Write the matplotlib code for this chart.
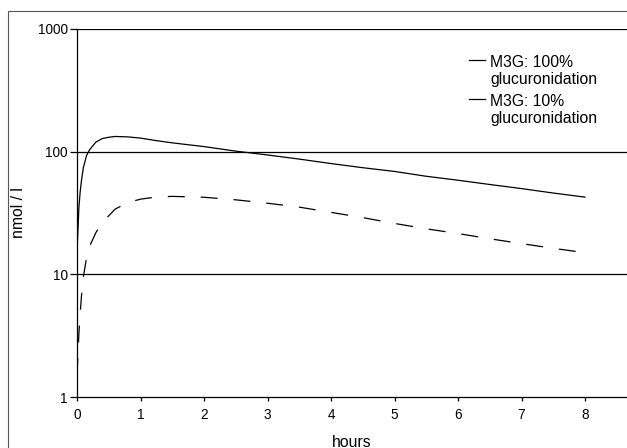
import matplotlib
matplotlib.use('Agg')
import matplotlib.pyplot as plt
from matplotlib.patches import Rectangle
from matplotlib.ticker import FixedLocator, NullLocator, FixedFormatter

plt.rcParams['font.family'] = ['Liberation Sans', 'DejaVu Sans']
plt.rcParams['lines.scale_dashes'] = False

hours = [0, 0.03, 0.05, 0.07, 0.1, 0.15, 0.2, 0.3, 0.4, 0.5, 0.6, 0.8, 1.0, 1.25,
         1.5, 2, 2.5, 3, 3.5, 4, 4.5, 5, 5.5, 6, 6.5, 7, 7.5, 8]
m3g_100 = [15, 35, 47, 58, 74, 93, 104, 120, 128, 131, 133, 132, 129, 123,
           118, 110, 101, 94, 87, 80, 74, 69, 63, 58.5, 54, 50, 46, 42.6]
m3g_10 = [1.5, 3.3, 4.8, 6.6, 9.5, 13.6, 17, 22, 26.5, 30, 34, 38.5, 41, 42.7,
          43.2, 42.5, 40.5, 38, 35.3, 32, 29, 26, 23.5, 21.5, 19.5, 17.8, 16.3, 15]
labels = ['M3G: 100%\nglucuronidation', 'M3G: 10%\nglucuronidation']
y_ticks = [1, 10, 100, 1000]
x_ticks = [0, 1, 2, 3, 4, 5, 6, 7, 8]

fig = plt.figure(figsize=(6.27, 4.48), dpi=100)
# outer frame of the chart area
fig.patches.append(Rectangle((8 / 627, -0.1), 1.2, (448 - 11) / 448 + 0.1,
                             transform=fig.transFigure, fill=False,
                             edgecolor='#555555', linewidth=0.8))

ax = fig.add_axes([77 / 627, 51 / 448, 550 / 627, 368 / 448])
ax.set_yscale('log')
ax.set_ylim(1, 1000)
ax.set_xlim(0, 550 / 63.5)

for v in [10, 100, 1000]:
    ax.axhline(v, color='black', linewidth=0.9, zorder=1)

l1, = ax.plot(hours, m3g_100, color='black', linewidth=0.9, label=labels[0])
l2, = ax.plot(hours, m3g_10, color='black', linewidth=0.9,
              dashes=(12.2, 11.5), label=labels[1])

ax.yaxis.set_major_locator(FixedLocator(y_ticks))
ax.yaxis.set_major_formatter(FixedFormatter([str(t) for t in y_ticks]))
ax.yaxis.set_minor_locator(NullLocator())
ax.set_xticks(x_ticks)
ax.tick_params(axis='both', direction='out', width=0.9,
               labelsize=9.8, colors='black')
ax.tick_params(axis='y', length=5, pad=1.5)
ax.tick_params(axis='x', length=3, pad=5)

for side in ['top', 'right']:
    ax.spines[side].set_visible(False)
for side in ['left', 'bottom']:
    ax.spines[side].set_linewidth(0.9)

ax.set_ylabel('nmol / l', fontsize=11.3, labelpad=8.5)
ax.set_xlabel('hours', fontsize=11.3, labelpad=9.5)

leg = ax.legend(handles=[l1, l2], loc='upper left',
                bbox_to_anchor=(469 / 627, (448 - 55) / 448),
                bbox_transform=fig.transFigure, frameon=False, fontsize=11.3,
                handlelength=1.02, handletextpad=0.32, labelspacing=0.42,
                borderpad=0, borderaxespad=0)
# solid short handles, level with the first label line
for h in leg.get_lines():
    h.set_linestyle('-')
    h.set_ydata([y + 8.5 for y in h.get_ydata()])

fig.savefig('out.png', dpi=100)
